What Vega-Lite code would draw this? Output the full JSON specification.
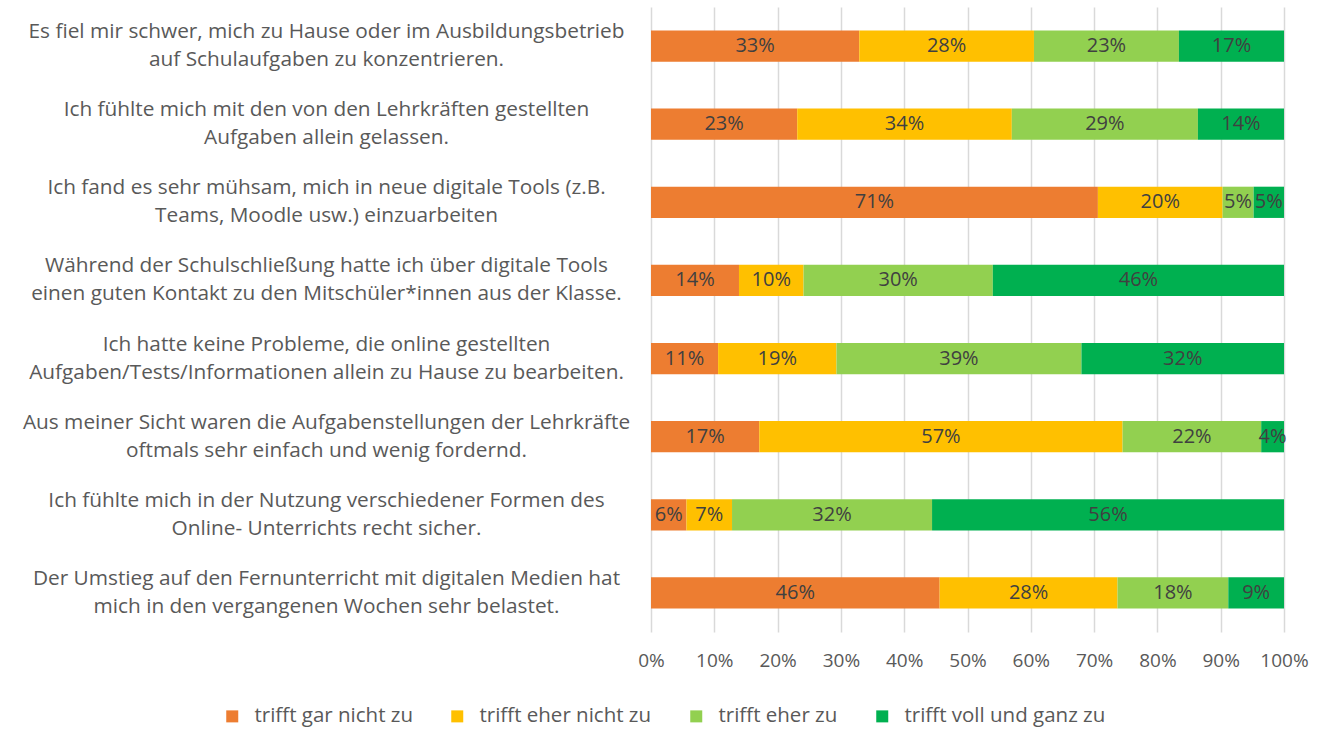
{
  "$schema": "https://vega.github.io/schema/vega-lite/v6.json",
  "width": 633,
  "height": 625,
  "autosize": {"type": "none"},
  "padding": {"left": 651, "top": 7, "right": 42, "bottom": 97},
  "background": "white",
  "config": {"view": {"stroke": null}, "font": "Open Sans"},
  "data": {
    "values": [
      {"q": "Es fiel mir schwer, mich zu Hause oder im Ausbildungsbetrieb|auf Schulaufgaben zu konzentrieren.", "cat": "trifft gar nicht zu", "v": 32.9},
      {"q": "Es fiel mir schwer, mich zu Hause oder im Ausbildungsbetrieb|auf Schulaufgaben zu konzentrieren.", "cat": "trifft eher nicht zu", "v": 27.6},
      {"q": "Es fiel mir schwer, mich zu Hause oder im Ausbildungsbetrieb|auf Schulaufgaben zu konzentrieren.", "cat": "trifft eher zu", "v": 22.9},
      {"q": "Es fiel mir schwer, mich zu Hause oder im Ausbildungsbetrieb|auf Schulaufgaben zu konzentrieren.", "cat": "trifft voll und ganz zu", "v": 16.6},
      {"q": "Ich fühlte mich mit den von den Lehrkräften gestellten|Aufgaben allein gelassen.", "cat": "trifft gar nicht zu", "v": 23.1},
      {"q": "Ich fühlte mich mit den von den Lehrkräften gestellten|Aufgaben allein gelassen.", "cat": "trifft eher nicht zu", "v": 33.9},
      {"q": "Ich fühlte mich mit den von den Lehrkräften gestellten|Aufgaben allein gelassen.", "cat": "trifft eher zu", "v": 29.4},
      {"q": "Ich fühlte mich mit den von den Lehrkräften gestellten|Aufgaben allein gelassen.", "cat": "trifft voll und ganz zu", "v": 13.6},
      {"q": "Ich fand es sehr mühsam, mich in neue digitale Tools (z.B.|Teams, Moodle usw.) einzuarbeiten", "cat": "trifft gar nicht zu", "v": 70.6},
      {"q": "Ich fand es sehr mühsam, mich in neue digitale Tools (z.B.|Teams, Moodle usw.) einzuarbeiten", "cat": "trifft eher nicht zu", "v": 19.7},
      {"q": "Ich fand es sehr mühsam, mich in neue digitale Tools (z.B.|Teams, Moodle usw.) einzuarbeiten", "cat": "trifft eher zu", "v": 4.9},
      {"q": "Ich fand es sehr mühsam, mich in neue digitale Tools (z.B.|Teams, Moodle usw.) einzuarbeiten", "cat": "trifft voll und ganz zu", "v": 4.8},
      {"q": "Während der Schulschließung hatte ich über digitale Tools|einen guten Kontakt zu den Mitschüler*innen aus der Klasse.", "cat": "trifft gar nicht zu", "v": 13.9},
      {"q": "Während der Schulschließung hatte ich über digitale Tools|einen guten Kontakt zu den Mitschüler*innen aus der Klasse.", "cat": "trifft eher nicht zu", "v": 10.2},
      {"q": "Während der Schulschließung hatte ich über digitale Tools|einen guten Kontakt zu den Mitschüler*innen aus der Klasse.", "cat": "trifft eher zu", "v": 29.9},
      {"q": "Während der Schulschließung hatte ich über digitale Tools|einen guten Kontakt zu den Mitschüler*innen aus der Klasse.", "cat": "trifft voll und ganz zu", "v": 46.0},
      {"q": "Ich hatte keine Probleme, die online gestellten|Aufgaben/Tests/Informationen allein zu Hause zu bearbeiten.", "cat": "trifft gar nicht zu", "v": 10.6},
      {"q": "Ich hatte keine Probleme, die online gestellten|Aufgaben/Tests/Informationen allein zu Hause zu bearbeiten.", "cat": "trifft eher nicht zu", "v": 18.7},
      {"q": "Ich hatte keine Probleme, die online gestellten|Aufgaben/Tests/Informationen allein zu Hause zu bearbeiten.", "cat": "trifft eher zu", "v": 38.7},
      {"q": "Ich hatte keine Probleme, die online gestellten|Aufgaben/Tests/Informationen allein zu Hause zu bearbeiten.", "cat": "trifft voll und ganz zu", "v": 32.0},
      {"q": "Aus meiner Sicht waren die Aufgabenstellungen der Lehrkräfte|oftmals sehr einfach und wenig fordernd.", "cat": "trifft gar nicht zu", "v": 17.1},
      {"q": "Aus meiner Sicht waren die Aufgabenstellungen der Lehrkräfte|oftmals sehr einfach und wenig fordernd.", "cat": "trifft eher nicht zu", "v": 57.4},
      {"q": "Aus meiner Sicht waren die Aufgabenstellungen der Lehrkräfte|oftmals sehr einfach und wenig fordernd.", "cat": "trifft eher zu", "v": 21.9},
      {"q": "Aus meiner Sicht waren die Aufgabenstellungen der Lehrkräfte|oftmals sehr einfach und wenig fordernd.", "cat": "trifft voll und ganz zu", "v": 3.6},
      {"q": "Ich fühlte mich in der Nutzung  verschiedener Formen des|Online- Unterrichts recht sicher.", "cat": "trifft gar nicht zu", "v": 5.6},
      {"q": "Ich fühlte mich in der Nutzung  verschiedener Formen des|Online- Unterrichts recht sicher.", "cat": "trifft eher nicht zu", "v": 7.2},
      {"q": "Ich fühlte mich in der Nutzung  verschiedener Formen des|Online- Unterrichts recht sicher.", "cat": "trifft eher zu", "v": 31.6},
      {"q": "Ich fühlte mich in der Nutzung  verschiedener Formen des|Online- Unterrichts recht sicher.", "cat": "trifft voll und ganz zu", "v": 55.6},
      {"q": "Der Umstieg auf den Fernunterricht mit digitalen Medien hat|mich in den vergangenen Wochen sehr belastet.", "cat": "trifft gar nicht zu", "v": 45.6},
      {"q": "Der Umstieg auf den Fernunterricht mit digitalen Medien hat|mich in den vergangenen Wochen sehr belastet.", "cat": "trifft eher nicht zu", "v": 28.1},
      {"q": "Der Umstieg auf den Fernunterricht mit digitalen Medien hat|mich in den vergangenen Wochen sehr belastet.", "cat": "trifft eher zu", "v": 17.5},
      {"q": "Der Umstieg auf den Fernunterricht mit digitalen Medien hat|mich in den vergangenen Wochen sehr belastet.", "cat": "trifft voll und ganz zu", "v": 8.8}
    ]
  },
  "transform": [
    {"calculate": "indexof(['trifft gar nicht zu','trifft eher nicht zu','trifft eher zu','trifft voll und ganz zu'], datum.cat)", "as": "o"},
    {"stack": "v", "groupby": ["q"], "sort": [{"field": "o", "order": "ascending"}], "offset": "normalize", "as": ["x0", "x1"]},
    {"calculate": "(datum.x0 + datum.x1) / 2", "as": "xm"},
    {"calculate": "format(datum.v, '.0f') + '%'", "as": "lbl"}
  ],
  "encoding": {
    "y": {
      "field": "q",
      "type": "nominal",
      "sort": null,
      "scale": {"paddingInner": 0.6, "paddingOuter": 0.3},
      "axis": {
        "title": null,
        "domain": false,
        "ticks": false,
        "grid": false,
        "labelAlign": "center",
        "labelBaseline": "middle",
        "labelPadding": 325,
        "labelOffset": -14,
        "labelFontSize": 20.8,
        "labelColor": "#595959",
        "labelLineHeight": 28,
        "labelLimit": 0,
        "labelExpr": "split(datum.label, '|')"
      }
    }
  },
  "layer": [
    {
      "mark": {"type": "bar"},
      "encoding": {
        "x": {
          "field": "x0",
          "type": "quantitative",
          "scale": {"domain": [0, 1], "nice": false},
          "axis": {
            "title": null,
            "format": ".0%",
            "values": [0, 0.1, 0.2, 0.3, 0.4, 0.5, 0.6, 0.7, 0.8, 0.9, 1],
            "grid": true,
            "gridColor": "#d9d9d9",
            "gridWidth": 1.5,
            "domain": false,
            "ticks": false,
            "labelFlush": false,
            "labelOverlap": false,
            "labelFontSize": 19,
            "labelColor": "#595959",
            "labelPadding": 19
          }
        },
        "x2": {"field": "x1"},
        "color": {
          "field": "cat",
          "type": "nominal",
          "scale": {
            "domain": ["trifft gar nicht zu", "trifft eher nicht zu", "trifft eher zu", "trifft voll und ganz zu"],
            "range": ["#ED7D31", "#FFC000", "#92D050", "#00B050"]
          },
          "legend": {
            "title": null,
            "orient": "none",
            "legendX": -429,
            "legendY": 699,
            "direction": "horizontal",
            "columns": 4,
            "symbolType": "square",
            "symbolSize": 144,
            "symbolStrokeWidth": 0,
            "labelFontSize": 20.5,
            "labelColor": "#595959",
            "labelLimit": 0,
            "labelOffset": 12,
            "columnPadding": 34,
            "padding": 0
          }
        }
      }
    },
    {
      "mark": {"type": "text", "fontSize": 20, "color": "#404040"},
      "encoding": {
        "x": {"field": "xm", "type": "quantitative"},
        "text": {"field": "lbl"}
      }
    }
  ]
}
